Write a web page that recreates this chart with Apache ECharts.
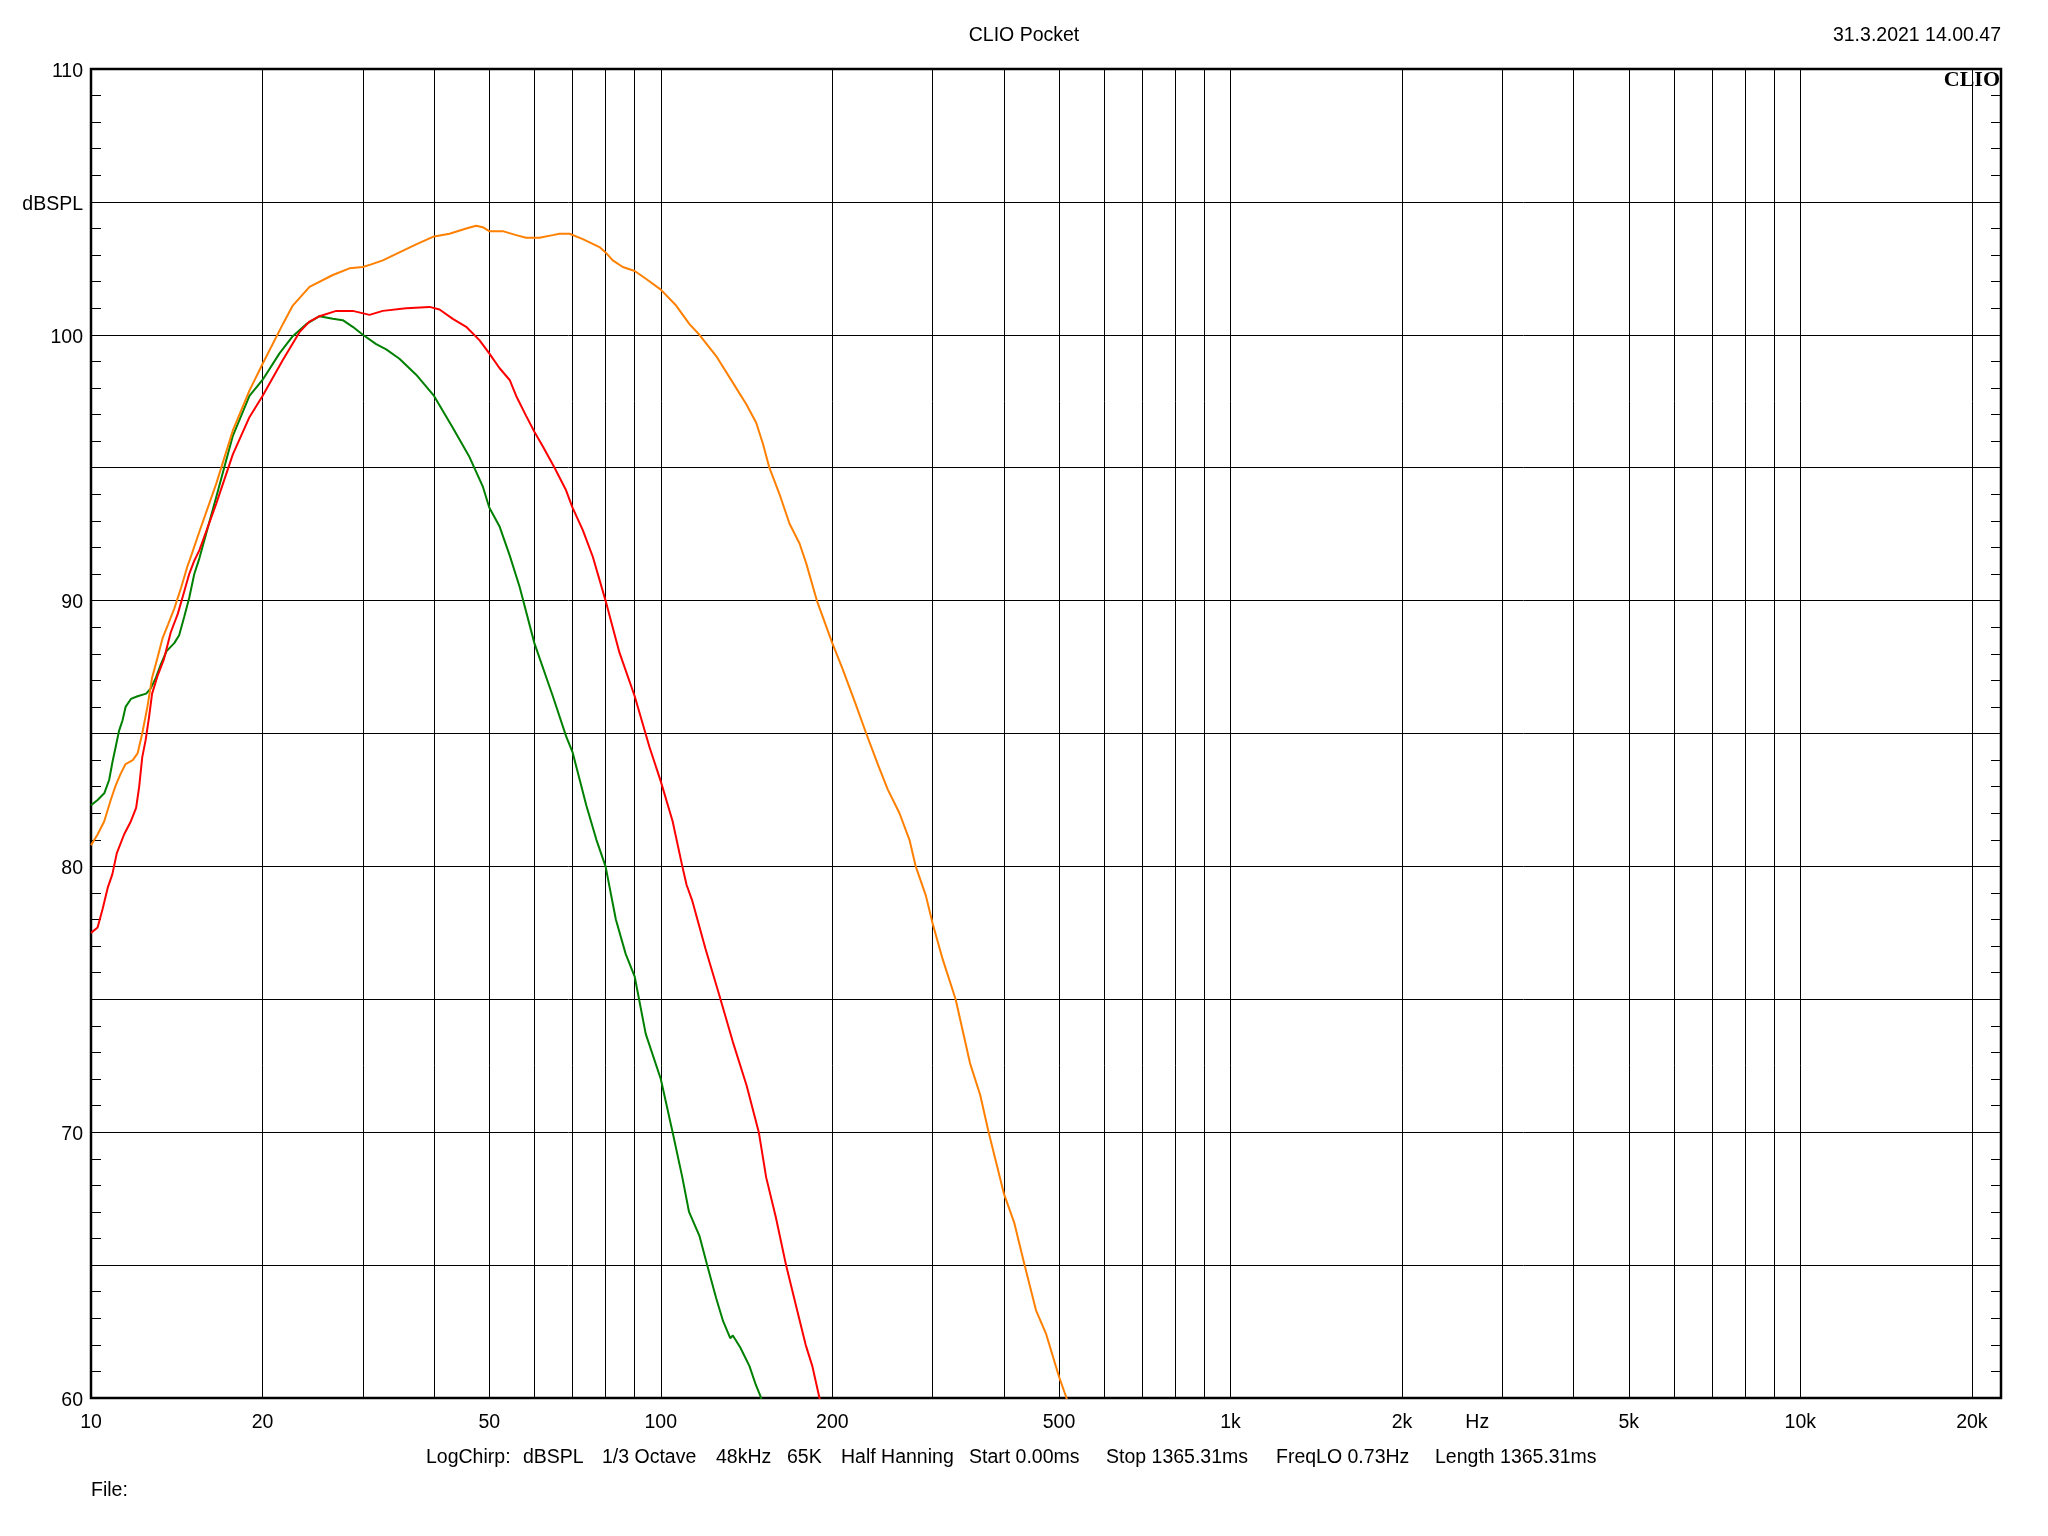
<!DOCTYPE html>
<html><head><meta charset="utf-8">
<script src="https://cdn.jsdelivr.net/npm/echarts@6/dist/echarts.min.js"></script>
<style>html,body{margin:0;padding:0;background:#fff}#c{width:2048px;height:1536px}</style>
</head><body><div id="c"></div>
<script>
// vertical grid frequencies (Hz)
const gridFreqs = [10,20,30,40,50,60,70,80,90,100,200,300,400,500,600,700,800,900,1000,2000,3000,4000,5000,6000,7000,8000,9000,10000,20000];
// frequency tick labels
const freqLabels = [10,20,50,100,200,500,1000,2000,5000,10000,20000];
const hzLabelFreq = 2710;
// y tick labels
const yLabels = {60:'60',70:'70',80:'80',90:'90',100:'100',105:'dBSPL',110:'110'};

const greenData = [[10,82.3],[10.27,82.5],[10.55,82.75],[10.76,83.25],[10.9,83.9],[11.05,84.5],[11.2,85.1],[11.36,85.5],[11.5,86.0],[11.75,86.3],[12.07,86.4],[12.5,86.5],[12.73,86.7],[13.0,87.1],[13.26,87.6],[13.57,88.1],[14.0,88.4],[14.28,88.7],[14.58,89.4],[14.87,90.1],[15.18,91.0],[15.5,91.6],[16.59,93.9],[17.74,96.2],[18.97,97.7],[20,98.3],[21.42,99.3],[22.6,99.95],[23.86,100.4],[25.18,100.7],[26.57,100.6],[27.66,100.55],[28.8,100.3],[30,100.0],[31.66,99.65],[32.97,99.45],[34.78,99.1],[37.21,98.5],[40,97.7],[43.15,96.5],[46.16,95.4],[48.7,94.3],[50,93.5],[52.1,92.8],[54.3,91.7],[56.55,90.5],[60,88.4],[64.65,86.4],[68.2,84.9],[70,84.3],[74.0,82.3],[77.1,81.0],[80,80.0],[83.4,78.0],[86.8,76.7],[90,75.85],[94.1,73.7],[100,72.0],[104.9,70.0],[109.1,68.3],[112.1,67.0],[116.9,66.1],[120.6,65.0],[125.1,63.75],[128.6,62.9],[132.4,62.25],[133.8,62.35],[137.9,61.9],[143.1,61.2],[146.8,60.5],[149.4,60.1],[151,59.8]];

const redData = [[10,77.5],[10.27,77.7],[10.48,78.4],[10.7,79.2],[10.9,79.7],[11.1,80.5],[11.43,81.2],[11.75,81.7],[12.0,82.2],[12.15,83.0],[12.3,84.1],[12.47,84.75],[12.64,85.6],[12.8,86.5],[13.1,87.2],[13.43,87.8],[13.8,88.8],[14.2,89.5],[14.6,90.4],[14.87,91.0],[15.18,91.5],[15.5,91.9],[16.59,93.65],[17.74,95.5],[18.97,96.9],[20,97.7],[21.71,99.05],[23.22,100.1],[24.18,100.5],[25.18,100.7],[26.94,100.9],[28.8,100.9],[30.82,100.75],[32.52,100.9],[35.74,101.0],[39.28,101.05],[40.9,100.95],[43.15,100.6],[45.55,100.3],[48.05,99.8],[50,99.3],[52.1,98.75],[54.3,98.3],[55.75,97.7],[58.03,96.95],[60,96.35],[62.1,95.8],[65.1,95.0],[68.2,94.15],[70,93.5],[72.97,92.65],[75.98,91.65],[80,90.0],[84.6,88.05],[90,86.4],[95.5,84.5],[100,83.2],[104.9,81.7],[109.1,80.0],[111,79.3],[113.6,78.7],[119.8,76.9],[126.5,75.2],[133.8,73.4],[141.5,71.75],[148.6,70.0],[153.1,68.3],[159.2,66.8],[165.9,65.0],[172.6,63.5],[179.6,62.0],[184.5,61.2],[189.9,60.0],[192,59.6]];

const orangeData = [[10,80.8],[10.27,81.2],[10.55,81.7],[10.83,82.5],[11.05,83.05],[11.28,83.5],[11.5,83.85],[11.84,84.0],[12.07,84.25],[12.3,85.0],[12.56,86.0],[12.8,87.1],[13.1,87.9],[13.36,88.6],[13.65,89.1],[14.0,89.7],[14.4,90.5],[14.77,91.3],[15.0,91.7],[15.5,92.6],[16.59,94.4],[17.74,96.4],[18.97,97.9],[20,98.9],[21.71,100.4],[22.6,101.1],[24.18,101.8],[26.57,102.25],[28.42,102.5],[30,102.55],[31.03,102.65],[32.52,102.8],[34.78,103.1],[37.21,103.4],[40,103.7],[42.58,103.8],[45.55,104.0],[47.42,104.1],[48.7,104.05],[50,103.9],[52.8,103.9],[55.75,103.75],[58.03,103.65],[61.24,103.65],[64.65,103.75],[66.4,103.8],[69.17,103.8],[72.97,103.6],[78.05,103.3],[80,103.1],[82.36,102.8],[85.77,102.55],[90,102.4],[94.3,102.1],[100,101.7],[106.4,101.1],[112.3,100.4],[116.9,100.0],[125.1,99.2],[133.8,98.2],[141.2,97.4],[147.0,96.7],[151.1,95.9],[155.1,95.0],[161.6,94.0],[168.2,92.9],[175.2,92.15],[180.0,91.4],[187.9,90.0],[200,88.4],[208.3,87.45],[219.0,86.2],[229.4,85.0],[240.8,83.8],[250.2,82.9],[262.4,82.0],[273.2,81.0],[280.2,80.0],[291.9,78.9],[300,77.85],[312.5,76.5],[329.2,75.0],[348.9,72.6],[363.6,71.4],[376.2,70.0],[400,67.7],[417.1,66.6],[435,65.0],[455.6,63.3],[474.7,62.4],[500,60.8],[515.3,60.0],[520,59.7]];

const FONT = '"Liberation Sans", Arial, sans-serif';
const FS = 19.5;

const chart = echarts.init(document.getElementById('c'), null, {renderer:'canvas'});

function fmtFreq(v){
  const r = Math.round(v);
  if (Math.abs(v - hzLabelFreq) < 1) return 'Hz';
  if (r >= 1000) return (r/1000) + 'k';
  return String(r);
}

function txt(text, x, y, align, extra){
  return Object.assign({type:'text', x:x, y:y, silent:true,
    style:{text:text, fill:'#000', font: FS + 'px ' + FONT, align:align, verticalAlign:'middle', textAlign:align, textVerticalAlign:'middle'}}, extra||{});
}

const infoParts = [['LogChirp:',426],['dBSPL',523],['1/3 Octave',602],['48kHz',716],['65K',787],['Half Hanning',841],['Start 0.00ms',969],['Stop 1365.31ms',1106],['FreqLO 0.73Hz',1276],['Length 1365.31ms',1435]];

const graphics = [
  txt('CLIO Pocket', 1024, 36, 'center'),
  txt('31.3.2021 14.00.47', 2001, 36, 'right'),
  txt('File:', 91, 1491, 'left'),
  {type:'text', x:2000, y:80, silent:true, z:100,
    style:{text:'CLIO', fill:'#000', font:'bold 22px "Liberation Serif", "DejaVu Serif", serif', align:'right', verticalAlign:'middle', textAlign:'right', textVerticalAlign:'middle'}}
];
infoParts.forEach(p => graphics.push(txt(p[0], p[1], 1458, 'left')));

const minorTick = {show:true, splitNumber:5, length:10, lineStyle:{color:'#000', width:1}};

chart.setOption({
  animation:false,
  backgroundColor:'#fff',
  grid:{left:91, top:69, width:1910, height:1329, show:true, borderColor:'#000', borderWidth:2.5, backgroundColor:'transparent'},
  xAxis:{
    type:'log', logBase:10, min:10, max:22500,
    axisLine:{show:false},
    axisTick:{show:false, customValues:gridFreqs},
    splitLine:{show:true, lineStyle:{color:'#000', width:1}},
    axisLabel:{customValues: freqLabels.concat([hzLabelFreq]), formatter:fmtFreq, color:'#000', fontSize:FS, fontFamily:FONT, margin:15}
  },
  yAxis:[{
    type:'value', min:60, max:110, interval:5, position:'left',
    axisLine:{show:false},
    axisTick:{show:false, inside:true},
    minorTick:minorTick,
    minorSplitLine:{show:false},
    splitLine:{show:true, lineStyle:{color:'#000', width:1}},
    axisLabel:{
      formatter:v => (yLabels[v] !== undefined ? '{t|' + yLabels[v] + '}' : ''),
      color:'#000', fontSize:FS, fontFamily:FONT, margin:8,
      rich:{t:{color:'#000', fontSize:FS, fontFamily:FONT, padding:[5,0,0,0]}}
    }
  },{
    type:'value', min:60, max:110, interval:5, position:'right',
    axisLine:{show:false},
    axisTick:{show:false, inside:true},
    minorTick:minorTick,
    splitLine:{show:false},
    axisLabel:{show:false}
  }],
  graphic: graphics,
  series:[
    {type:'line', name:'green', data:greenData, showSymbol:false, symbol:'none', clip:true, lineStyle:{color:'#008000', width:2}, itemStyle:{color:'#008000'}, z:3},
    {type:'line', name:'red', data:redData, showSymbol:false, symbol:'none', clip:true, lineStyle:{color:'#ff0000', width:2}, itemStyle:{color:'#ff0000'}, z:4},
    {type:'line', name:'orange', data:orangeData, showSymbol:false, symbol:'none', clip:true, lineStyle:{color:'#ff8000', width:2}, itemStyle:{color:'#ff8000'}, z:5}
  ]
});
</script>
</body></html>
